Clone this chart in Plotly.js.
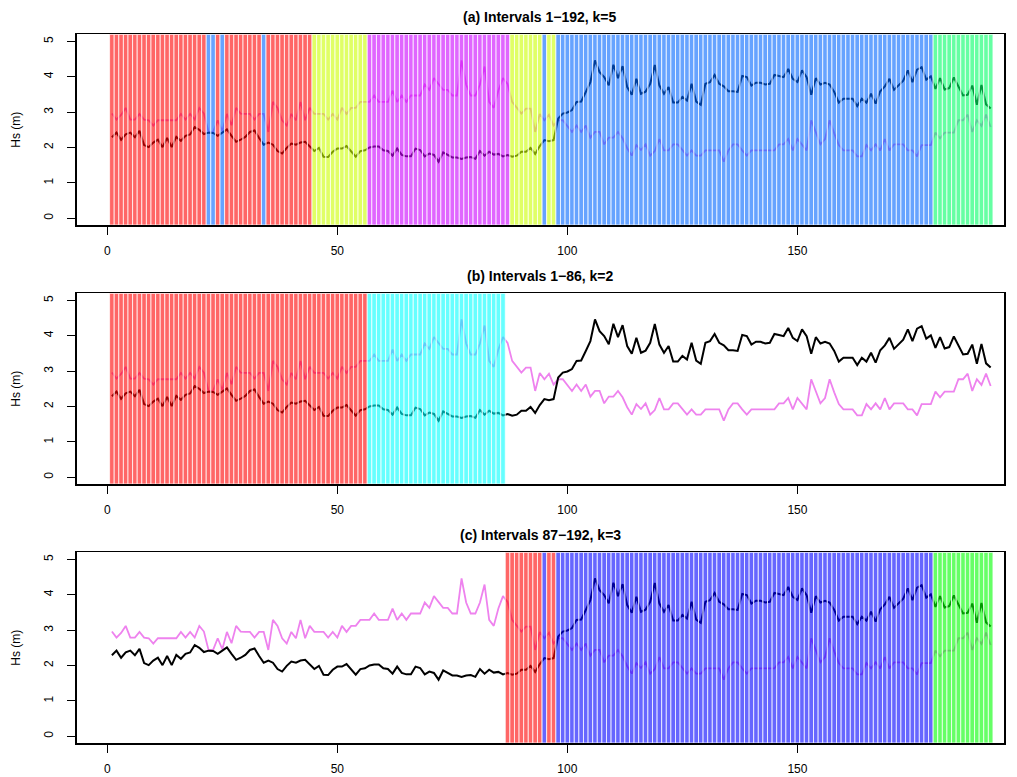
<!DOCTYPE html>
<html>
<head>
<meta charset="utf-8">
<script src="https://cdn.plot.ly/plotly-3.0.1.min.js"></script>
<style>html,body{margin:0;padding:0;background:#fff;}#chart{width:1017px;height:777px;}</style>
</head>
<body>
<div id="chart"></div>
<script>
// Black series (Hs, m) for intervals 1..192
const hsBlack = [
2.29,2.42,2.22,2.37,2.42,2.29,2.47,2.07,2.01,2.14,
2.22,2.01,2.27,2.01,2.30,2.19,2.33,2.37,2.58,2.50,
2.38,2.42,2.41,2.33,2.42,2.51,2.33,2.16,2.22,2.30,
2.44,2.48,2.27,2.08,2.14,2.08,1.90,1.83,1.99,2.11,
2.08,2.14,2.16,2.04,1.90,1.99,1.74,1.73,1.88,1.97,
1.97,2.04,1.90,1.74,1.90,1.92,2.00,2.03,2.03,1.92,
1.90,1.77,1.97,1.79,1.75,1.75,1.97,1.93,1.75,1.83,
1.79,1.60,1.86,1.79,1.72,1.72,1.68,1.72,1.73,1.68,
1.90,1.77,1.88,1.80,1.82,1.75,1.79,1.74,1.77,1.88,
1.88,1.99,1.82,2.04,2.21,2.18,2.21,2.82,2.96,2.99,
3.06,3.29,3.30,3.57,3.85,4.46,4.13,3.99,3.76,4.34,
3.96,4.30,3.71,3.49,3.94,3.52,3.58,3.80,4.33,3.75,
3.52,3.71,3.27,3.27,3.43,3.33,3.80,3.30,3.21,3.80,
3.85,4.05,3.80,3.73,3.59,3.59,3.57,4.02,3.99,3.75,
3.83,3.83,3.78,3.80,4.05,4.02,3.99,4.22,3.94,3.85,
4.18,3.99,3.49,3.96,3.78,3.83,3.78,3.57,3.27,3.38,
3.38,3.38,3.17,3.38,3.27,3.52,3.24,3.59,3.73,3.94,
3.63,3.77,3.89,4.18,3.85,4.20,4.27,3.92,4.01,3.66,
3.96,3.64,3.68,3.98,3.74,3.47,3.49,3.75,3.21,3.77,
3.22,3.10
];
// Violet series (Hs, m) for intervals 1..192
const hsViolet = [
2.96,2.79,2.92,3.12,2.79,2.79,2.95,2.79,2.77,2.62,
2.77,2.77,2.77,2.77,2.77,2.95,2.79,2.95,2.79,3.12,
2.96,2.44,2.44,2.77,2.46,2.95,2.63,3.12,2.96,2.95,
2.95,2.79,2.95,2.95,2.44,3.29,3.12,2.77,2.62,2.95,
2.77,3.29,2.77,3.12,2.95,2.95,2.95,2.79,2.95,2.79,
3.12,2.95,3.12,3.12,3.29,3.29,3.29,3.47,3.29,3.29,
3.29,3.61,3.29,3.47,3.29,3.47,3.47,3.47,3.78,3.63,
3.96,3.80,3.63,3.63,3.47,3.47,4.46,3.78,3.47,3.47,
3.78,4.29,3.29,3.12,3.61,3.96,3.80,3.29,3.12,2.96,
3.10,3.10,2.44,2.95,2.77,2.93,2.62,2.77,2.77,2.62,
2.44,2.62,2.44,2.62,2.28,2.44,2.44,2.09,2.28,2.28,
2.44,2.26,1.98,1.77,2.07,1.93,2.09,1.77,1.90,2.24,
1.92,1.92,2.09,2.09,1.92,1.77,1.92,1.77,1.77,1.92,
1.92,1.92,1.92,1.60,1.92,2.09,2.09,1.92,1.77,1.92,
1.92,1.92,1.92,1.92,1.92,2.09,2.09,2.24,1.92,2.24,
2.09,1.92,2.77,2.44,2.09,2.24,2.77,2.40,2.07,1.92,
1.92,1.92,1.75,1.75,2.07,1.92,2.09,1.92,2.24,1.92,
2.09,2.09,2.09,1.92,1.92,1.75,2.07,2.07,2.07,2.42,
2.26,2.42,2.42,2.42,2.77,2.77,2.93,2.44,2.77,2.61,
2.93,2.58
];
// Cluster segments: [first interval, last interval, cluster number]
const segA = [[1,21,1],[22,23,4],[24,24,1],[25,25,4],[26,33,1],[34,34,4],[35,44,1],[45,56,2],[57,87,5],[88,94,2],[95,95,4],[96,97,2],[98,179,4],[180,192,3]];
const segB = [[1,56,1],[57,86,2]];
const segC = [[87,94,1],[95,95,3],[96,97,1],[98,179,3],[180,192,2]];
const palA = ['255,0,0','204,255,0','0,255,102','0,102,255','204,0,255'];
const palB = ['255,0,0','0,255,255'];
const palC = ['255,0,0','0,255,0','0,0,255'];
const titles = ['(a) Intervals 1\u2212192, k=5','(b) Intervals 1\u221286, k=2','(c) Intervals 87\u2212192, k=3'];
const xTicks = [0,50,100,150];
const yTicks = [0,1,2,3,4,5];

const idx = hsBlack.map((_, i) => i + 1);
const yLo = -0.19, yHi = 5.2;
const font = 'Liberation Sans, Arial, Helvetica, sans-serif';

function barTrace(seg, pal, xa, ya) {
  const xs = [], cols = [];
  seg.forEach(s => { for (let i = s[0]; i <= s[1]; i++) { xs.push(i); cols.push('rgba(' + pal[s[2]-1] + ',0.6)'); } });
  return {type:'bar', x: xs, y: xs.map(() => yHi - yLo), base: yLo, width: 1,
    marker:{color: cols, line:{color:'rgba(255,255,255,0.75)', width:1}},
    xaxis: xa, yaxis: ya, hoverinfo:'skip', showlegend:false};
}

const traces = [];
const axNames = [['x','y','y4'],['x2','y2','y5'],['x3','y3','y6']];
[[segA,palA],[segB,palB],[segC,palC]].forEach((sp, p) => {
  const [xa, ya, yo] = axNames[p];
  traces.push({type:'scatter', mode:'lines', x: idx, y: hsViolet, xaxis: xa, yaxis: ya,
    line:{color:'#EE82EE', width:1.8}, showlegend:false});
  traces.push({type:'scatter', mode:'lines', x: idx, y: hsBlack, xaxis: xa, yaxis: ya,
    line:{color:'#000000', width:2}, showlegend:false});
  traces.push(barTrace(sp[0], sp[1], xa, yo));
});

const W = 1017, H = 777;
const xDom = [76.7 / W, 1004 / W];
const tops = [34.3, 293.3, 552.3], bots = [225, 484, 743];
const layout = {
  width: W, height: H, margin:{l:0,r:0,t:0,b:0},
  paper_bgcolor:'#fff', plot_bgcolor:'rgba(0,0,0,0)',
  bargap: 0, barmode:'overlay',
  font:{family: font, size: 12, color:'#000'},
  annotations: []
};
for (let p = 0; p < 3; p++) {
  const sfx = p === 0 ? '' : String(p + 1);
  const yDom = [1 - bots[p] / H, 1 - tops[p] / H];
  layout['xaxis' + sfx] = {domain: xDom, range:[-6.65, 194.9], anchor: 'y' + sfx,
    tickvals: xTicks, ticktext: xTicks.map(String), ticks:'outside', ticklen:8, tickwidth:1, tickcolor:'#000',
    showgrid:false, zeroline:false, showline:true, mirror:true, linecolor:'#000', linewidth:1.5,
    ticklabelstandoff: 6, tickfont:{size:12, family: font, color:'#000'}};
  layout['yaxis' + sfx] = {domain: yDom, range:[yLo, yHi], anchor: 'x' + sfx,
    tickvals: yTicks, ticktext: yTicks.map(String), ticks:'outside', ticklen:8, tickwidth:1, tickcolor:'#000',
    tickangle: -90, showgrid:false, zeroline:false, showline:true, mirror:true, linecolor:'#000', linewidth:1.5,
    ticklabelstandoff: 9, tickfont:{size:12, family: font, color:'#000'},
    title:{text:'Hs (m)', font:{size:12, family: font, color:'#000'}, standoff: 19}};
  layout['yaxis' + (p + 4)] = {domain: yDom, range:[yLo, yHi], overlaying: 'y' + sfx, anchor: 'x' + sfx,
    visible:false, showgrid:false, zeroline:false, fixedrange:true};
  layout.annotations.push({text: '<b>' + titles[p] + '</b>', xref:'paper', yref:'paper',
    x: (xDom[0] + xDom[1]) / 2, y: 1 - (tops[p] - 17) / H, xanchor:'center', yanchor:'middle',
    showarrow:false, font:{size:14, family: font, color:'#000'}});
}
Plotly.newPlot('chart', traces, layout, {displayModeBar:false, staticPlot:true});
</script>
</body>
</html>
